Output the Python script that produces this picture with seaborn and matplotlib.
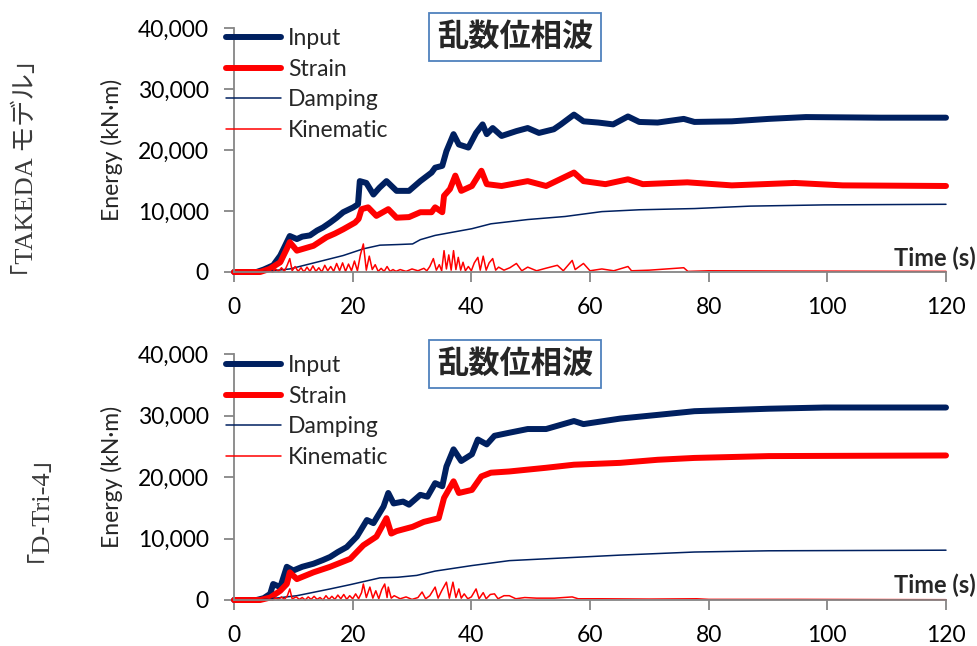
import matplotlib
matplotlib.use("Agg")
import pandas as pd
import matplotlib.pyplot as plt
import seaborn as sns
from matplotlib.ticker import FuncFormatter

sns.set_style("white")
plt.rcParams['font.family'] = ['Lato', 'Noto Sans CJK JP', 'DejaVu Sans']

# ---- data: (time s, energy kN·m) ----
# TAKEDA model
takeda_input = [(0, 0), (3.8, 0), (5, 400), (6.6, 1100), (7.8, 2700), (8.9, 4900), (9.4, 5900),
                (10.6, 5400), (11.5, 5800), (12.8, 6000), (14, 6800), (15, 7300), (16.2, 8100),
                (17.3, 8900), (18.4, 9800), (20.1, 10600), (20.9, 11100), (21.2, 14900), (22.3, 14600),
                (23.5, 12700), (24.5, 13800), (25.7, 14900), (27.4, 13300), (29.5, 13300), (31.4, 14900),
                (33.3, 16300), (33.9, 17100), (35.1, 17400), (35.8, 19800), (37.0, 22600), (37.9, 20900),
                (39.5, 20400), (40.8, 22800), (41.9, 24200), (42.6, 22600), (43.6, 23600), (45.1, 22300),
                (47.6, 23100), (49.5, 23600), (51.4, 22800), (53.9, 23400), (55.1, 24200), (57.3, 25800),
                (58.9, 24700), (61.4, 24500), (63.9, 24200), (66.4, 25500), (68.3, 24600), (71.4, 24500),
                (75.8, 25100), (77.6, 24600), (83.9, 24700), (90.1, 25100), (96.4, 25400), (108.9, 25300),
                (120, 25300)]
takeda_strain = [(0, 0), (4.4, 0), (6, 500), (7.8, 1600), (8.9, 3800), (9.4, 4900), (10.6, 3500),
                 (12, 3900), (13.4, 4300), (15.6, 5700), (17, 6300), (18.4, 7000), (20.4, 8100),
                 (21.0, 8700), (21.5, 10300), (22.6, 10600), (24.0, 9200), (26.0, 10300), (27.4, 8900),
                 (29.5, 9000), (31.4, 9800), (33.3, 9800), (33.9, 10600), (35.1, 9800), (35.4, 12500),
                 (36.4, 13600), (37.3, 15800), (38.3, 13300), (40.1, 14100), (41.7, 16600), (42.6, 14400),
                 (45.1, 14100), (49.5, 14900), (52.6, 14100), (57.3, 16300), (58.9, 14900), (62.6, 14400),
                 (66.4, 15200), (68.9, 14400), (76.4, 14700), (83.9, 14200), (94.5, 14600), (102.6, 14200),
                 (120, 14100)]
takeda_damping = [(0, 0), (4.4, 0), (9.4, 500), (13.9, 1600), (18.4, 2700), (21.8, 3800), (24.6, 4400),
                  (27.6, 4500), (30.1, 4600), (31.4, 5300), (33.9, 6000), (40.1, 7100), (43.3, 7900),
                  (49.5, 8600), (55.8, 9100), (62, 9900), (68.3, 10200), (77.6, 10400), (87, 10800),
                  (99.5, 11000), (120, 11100)]
takeda_kinematic = [(0, 0), (5, 0), (6, 300), (6.5, 0), (7, 500), (7.5, 100), (8, 700), (8.5, 100),
                    (9, 1200), (9.4, 2200), (9.8, 200), (10.3, 900), (10.8, 100), (11.3, 700), (11.8, 0),
                    (12.3, 800), (12.8, 100), (13.3, 1000), (13.8, 100), (14.3, 700), (14.8, 0),
                    (15.3, 1100), (15.8, 200), (16.3, 900), (16.8, 100), (17.3, 1400), (17.8, 200),
                    (18.3, 1500), (18.8, 100), (19.3, 1300), (19.8, 200), (20.3, 1800), (20.8, 200),
                    (21.3, 2800), (21.8, 4600), (22.3, 300), (22.8, 2600), (23.3, 400), (23.8, 1200),
                    (24.3, 100), (24.8, 600), (25.3, 100), (25.8, 900), (26.3, 100), (26.8, 400),
                    (27.3, 100), (28, 400), (29, 100), (30, 500), (31, 200), (32, 600), (32.5, 200),
                    (33, 900), (33.6, 2200), (34.1, 300), (34.6, 1200), (35, 200), (35.4, 3500),
                    (35.8, 500), (36.2, 2800), (36.6, 300), (37, 3500), (37.4, 400), (37.8, 2400),
                    (38.2, 300), (38.6, 1600), (39, 200), (39.5, 900), (40, 200), (40.5, 1500),
                    (41.1, 2400), (41.5, 300), (42, 2600), (42.5, 300), (43, 1500), (43.6, 2200),
                    (44.1, 300), (44.6, 800), (45.5, 300), (46.5, 700), (47.6, 1400), (48.5, 200),
                    (49.5, 800), (51, 200), (52.5, 600), (54.5, 1100), (55.5, 200), (57, 1900),
                    (57.5, 400), (58.9, 1400), (60, 200), (62, 500), (64, 200), (66.4, 900), (67, 200),
                    (70, 300), (75.8, 700), (76.5, 100), (80, 200), (95, 150), (120, 100)]

# D-Tri-4 model
dtri_input = [(0, 0), (3.8, 0), (5, 300), (6.1, 1000), (6.6, 2600), (7.8, 2100), (8.9, 5400), (10, 4800),
              (11.5, 5400), (13.4, 5900), (15, 6500), (16.2, 7000), (17.5, 7800), (19, 8600),
              (20.7, 10300), (22.4, 13000), (23.5, 12500), (25.2, 15200), (26, 17400), (26.9, 15700),
              (28.5, 16000), (29.5, 15500), (31.4, 17100), (32.6, 16800), (33.9, 19000), (35.1, 18500),
              (35.8, 21700), (37, 24500), (38.3, 22600), (40.1, 23700), (41.1, 26100), (42.6, 25300),
              (43.9, 26700), (46.4, 27200), (49.5, 27800), (52.6, 27800), (57.3, 29100), (58.9, 28600),
              (65.1, 29500), (71.4, 30100), (77.6, 30700), (83.9, 30900), (90.1, 31100), (99.5, 31300),
              (120, 31300)]
dtri_strain = [(0, 0), (4.4, 0), (6.1, 400), (7.8, 1500), (8.9, 2600), (9.4, 4500), (10.6, 3400),
               (13.4, 4500), (16.2, 5400), (19.6, 6700), (21.8, 8900), (24, 10300), (25.7, 13300),
               (26.5, 10800), (27.4, 11200), (30.1, 11900), (32, 12700), (34.5, 13300), (35.4, 16600),
               (37, 19300), (37.9, 17400), (40.1, 17900), (41.7, 20100), (43.3, 20700), (46.4, 20900),
               (52.6, 21500), (57.3, 22000), (65.1, 22300), (71.4, 22800), (77.6, 23100), (90.1, 23400),
               (120, 23500)]
dtri_damping = [(0, 0), (4.4, 0), (10.6, 700), (16.2, 1800), (19.6, 2500), (24.6, 3600), (27.6, 3700),
                (30.8, 4000), (33.9, 4700), (40.1, 5600), (46.4, 6400), (52.6, 6700), (65.1, 7300),
                (77.6, 7800), (90.1, 8000), (120, 8100)]
dtri_kinematic = [(0, 0), (5, 0), (6, 200), (6.5, 0), (7, 300), (7.5, 100), (8, 500), (8.5, 100), (9, 700),
                  (9.4, 1800), (9.8, 200), (10.5, 500), (11, 100), (11.5, 400), (12, 0), (12.5, 500),
                  (13, 100), (13.5, 600), (14, 100), (14.5, 400), (15, 0), (15.5, 700), (16, 100),
                  (16.5, 600), (17, 100), (17.5, 800), (18, 200), (18.5, 900), (19, 100), (19.5, 700),
                  (20, 200), (20.5, 1000), (21, 200), (21.5, 1200), (21.8, 2600), (22.3, 400),
                  (22.9, 2100), (23.4, 300), (23.9, 1500), (24.4, 200), (24.9, 1700), (25.4, 2600),
                  (25.8, 400), (26, 2100), (26.5, 300), (27, 700), (28, 200), (29, 500), (30, 100),
                  (31, 400), (31.7, 1300), (32.3, 200), (33, 700), (33.9, 2100), (34.4, 300), (35, 1500),
                  (35.8, 2900), (36.3, 300), (36.9, 2900), (37.4, 400), (37.9, 1800), (38.3, 300),
                  (38.8, 1000), (39.4, 200), (40, 500), (40.8, 1800), (41.3, 200), (42, 1200), (42.5, 200),
                  (43.2, 900), (43.9, 1000), (44.5, 200), (45.5, 700), (46.4, 700), (47.5, 200), (49, 400),
                  (51, 300), (54, 300), (57, 500), (58, 200), (62, 200), (70, 150), (78, 200), (80, 100),
                  (95, 100), (120, 50)]

series_names = ["Input", "Strain", "Damping", "Kinematic"]
model_labels = ["「TAKEDA モデル」", "「D-Tri-4」"]
wave_title = "乱数位相波"
x_ticks = [0, 20, 40, 60, 80, 100, 120]
y_ticks = [0, 10000, 20000, 30000, 40000]

navy = "#002060"
red = "#FF0000"
styles = {"Input": (navy, 4.3), "Strain": (red, 4.3), "Damping": (navy, 1.1), "Kinematic": (red, 1.1)}
axis_gray = "#868686"

W, H = 978, 646
fig = plt.figure(figsize=(W / 100, H / 100), dpi=100)
ax_top = fig.add_axes([234 / W, 1 - 272 / H, 712 / W, 244 / H])
ax_bot = fig.add_axes([234 / W, 1 - 600 / H, 712 / W, 246 / H])

panels = [
    (ax_top, [takeda_input, takeda_strain, takeda_damping, takeda_kinematic], model_labels[0], 0),
    (ax_bot, [dtri_input, dtri_strain, dtri_damping, dtri_kinematic], model_labels[1], 327),
]

for ax, data, model, dy in panels:
    for name, pts in zip(series_names, data):
        df = pd.DataFrame(pts, columns=["t", "E"])
        color, lw = styles[name]
        sns.lineplot(data=df, x="t", y="E", ax=ax, color=color, linewidth=lw, label=name,
                     clip_on=False)

    ax.set_xlim(0, 120)
    ax.set_ylim(0, 40000)
    ax.set_xticks(x_ticks)
    ax.set_yticks(y_ticks)
    ax.yaxis.set_major_formatter(FuncFormatter(lambda v, p: f"{int(v):,}"))
    ax.set_xlabel("")
    ax.set_ylabel("Energy (kN·m)", fontsize=16.5, labelpad=11)
    sns.despine(ax=ax)
    for s in ["left", "bottom"]:
        ax.spines[s].set_color(axis_gray)
        ax.spines[s].set_linewidth(1.3)
    ax.tick_params(axis="both", direction="out", length=7, width=1.3, color=axis_gray,
                   labelsize=16.5, labelcolor="black")
    ax.tick_params(axis="x", pad=11, bottom=True)
    ax.tick_params(axis="y", pad=11, left=True)

    ax.legend(loc="upper left", bbox_to_anchor=(226 / W, 1 - (28 + dy) / H),
              bbox_transform=fig.transFigure, frameon=False, fontsize=16.5,
              handlelength=2.4, handletextpad=0.3, labelspacing=0.42,
              borderpad=0, borderaxespad=0)

    fig.text(515 / W, 1 - (37 + dy) / H, wave_title, fontsize=22.5, fontweight="bold",
             family=["Noto Sans CJK JP"], ha="center", va="center",
             bbox=dict(boxstyle="square,pad=0.25", facecolor="white", edgecolor="#4F81BD", linewidth=1.3))

    fig.text(976 / W, 1 - (258 + dy) / H, "Time (s)", fontsize=17, fontweight="bold",
             ha="right", va="center")

    fig.text(26 / W, 1 - (168 + dy) / H, model, fontsize=19, rotation=90, color="#3a3a3a",
             family=["Liberation Serif", "Noto Sans CJK JP"], ha="center", va="center")

fig.savefig("out.png", dpi=100)
